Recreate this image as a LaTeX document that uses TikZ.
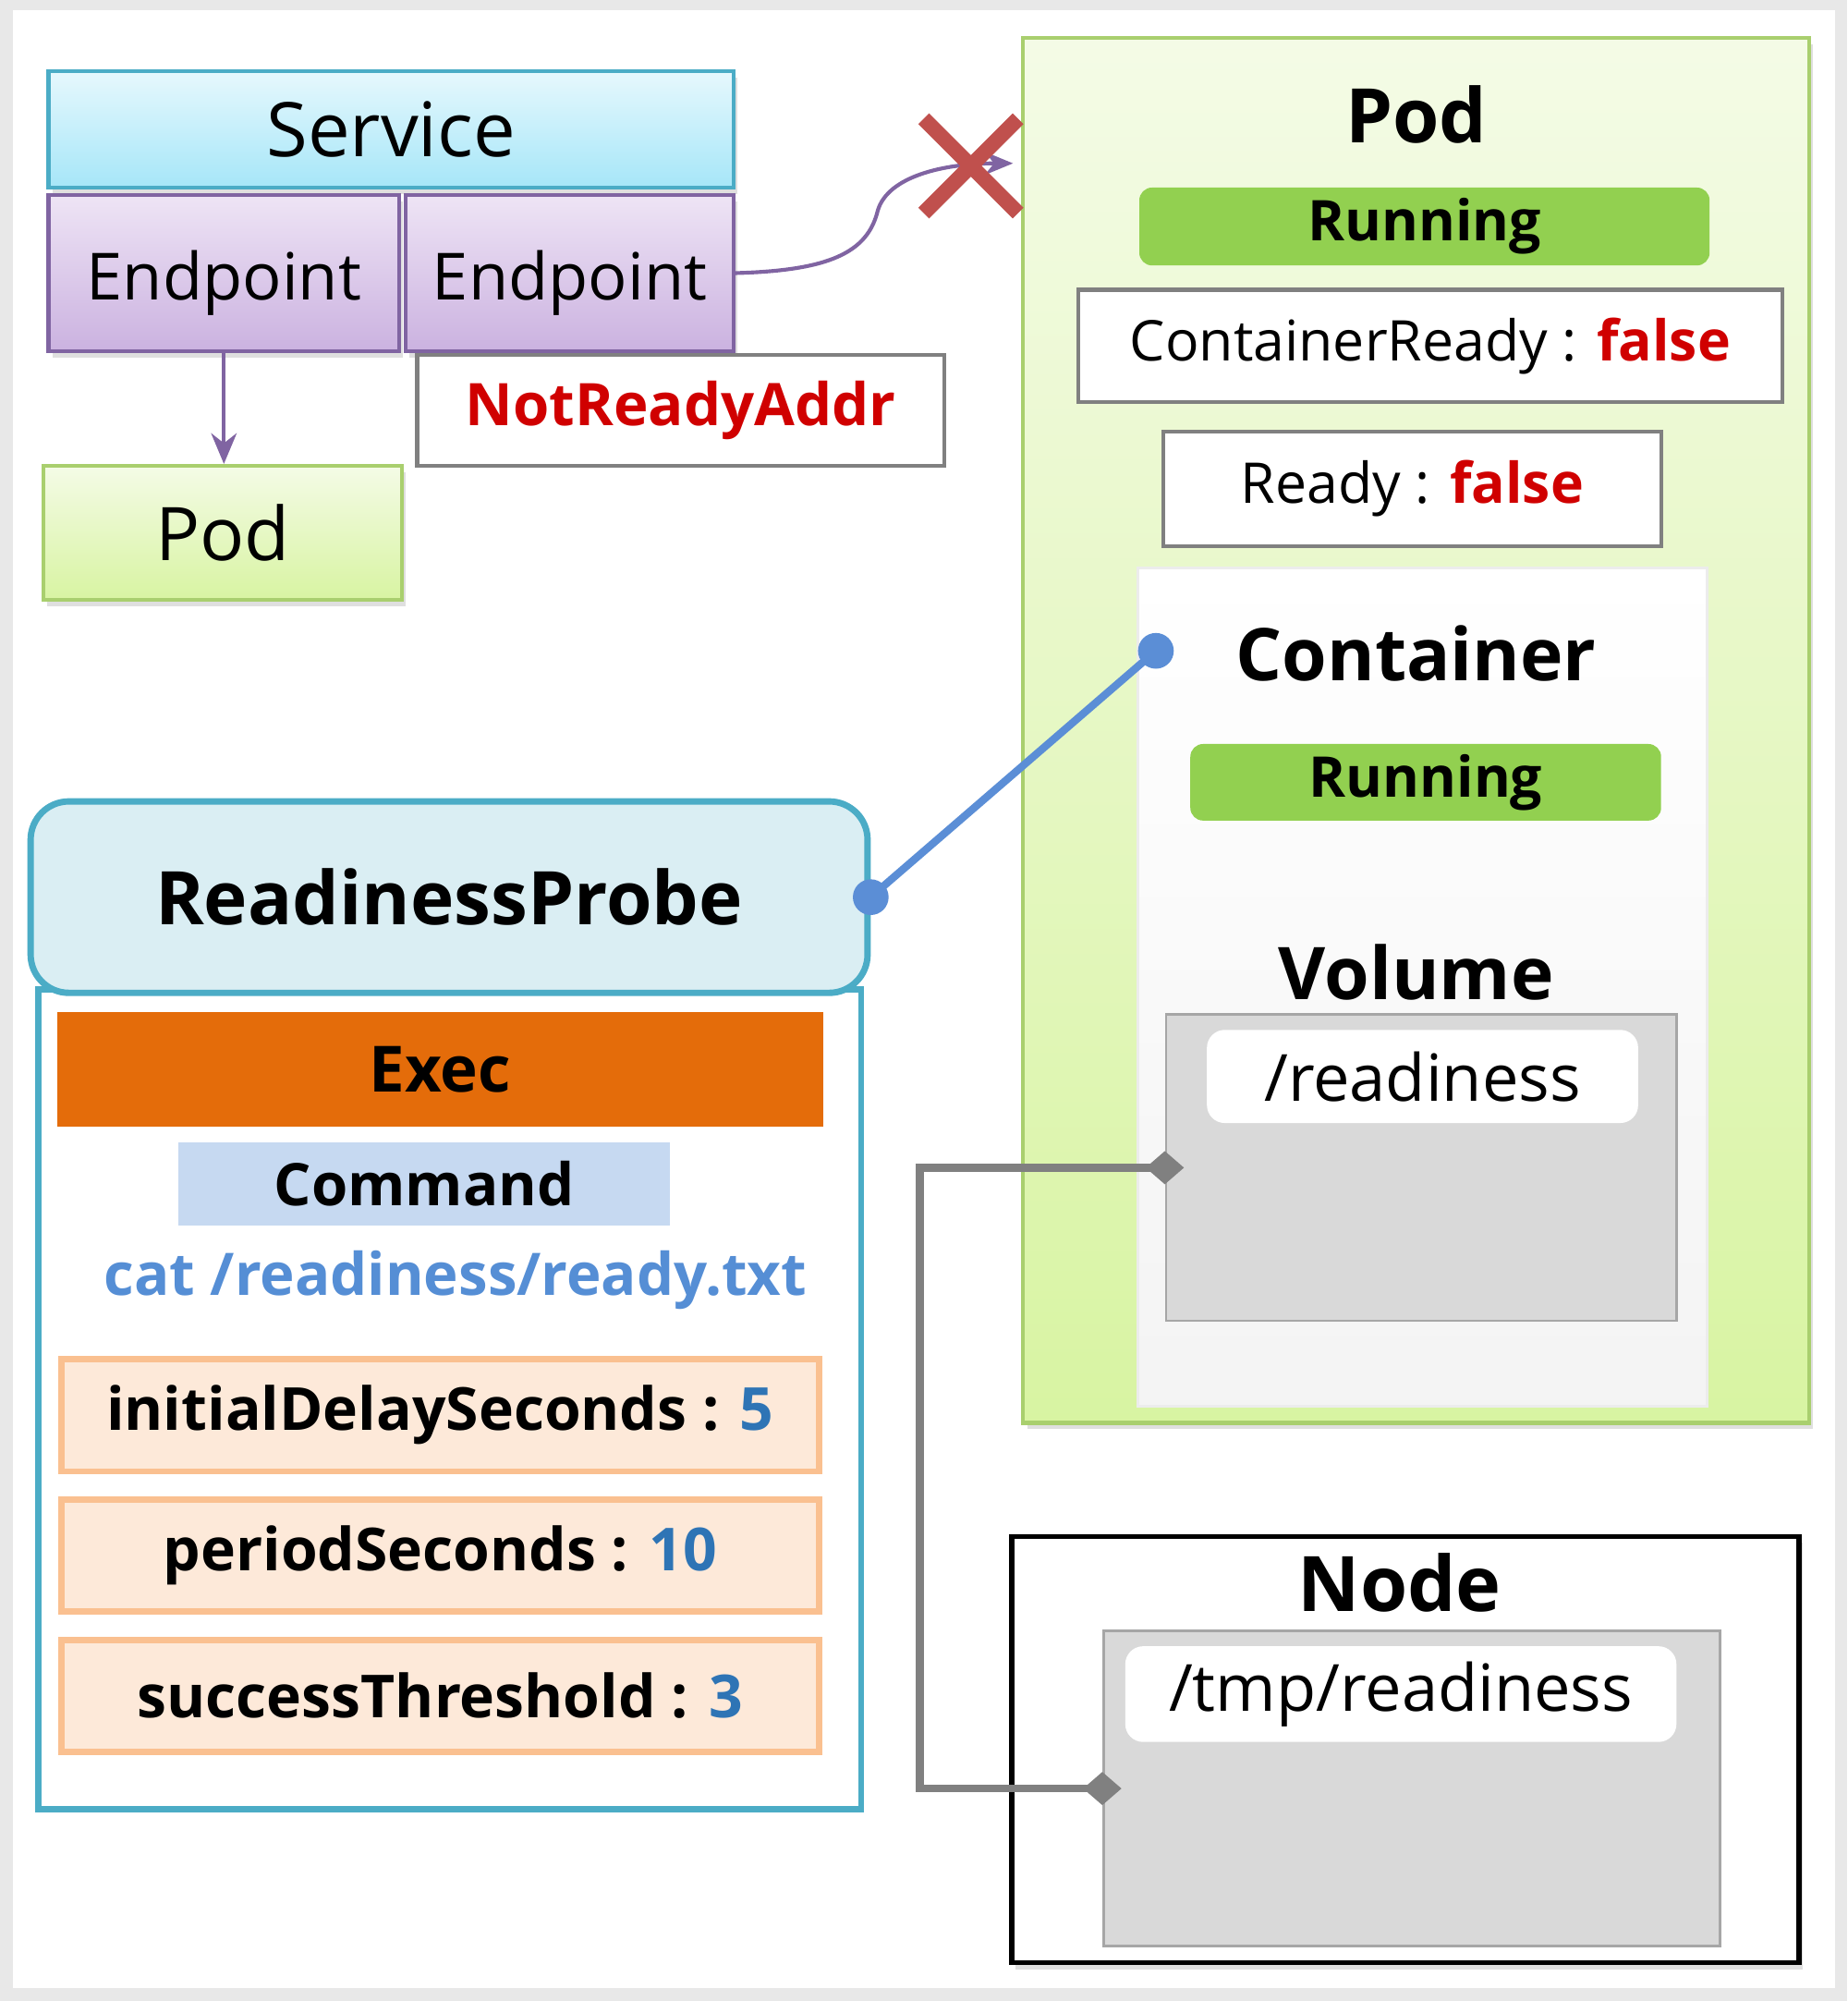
\documentclass[tikz,border=0pt]{standalone}
\usepackage{fontspec}
\setmainfont{Open Sans}
\usetikzlibrary{arrows.meta,shapes.misc,shadows}

\definecolor{svcline}{HTML}{4BACC6}
\definecolor{svctop}{HTML}{E6F8FD}
\definecolor{svcbot}{HTML}{A6E6F8}
\definecolor{epline}{HTML}{8064A2}
\definecolor{eptop}{HTML}{EEE4F5}
\definecolor{epbot}{HTML}{CBB2E0}
\definecolor{podline}{HTML}{A9CF6E}
\definecolor{podtop}{HTML}{F4FBE6}
\definecolor{podbot}{HTML}{D8F4A2}
\definecolor{runfill}{HTML}{92D050}
\definecolor{alertred}{HTML}{D00000}
\definecolor{xred}{HTML}{C0504D}
\definecolor{probefill}{HTML}{DAEEF3}
\definecolor{probeblue}{HTML}{5B8ED6}
\definecolor{execorange}{HTML}{E46C0A}
\definecolor{cmdblue}{HTML}{C6D9F1}
\definecolor{cattext}{HTML}{558ED5}
\definecolor{paramline}{HTML}{FAC090}
\definecolor{paramfill}{HTML}{FDE9D9}
\definecolor{valblue}{HTML}{2E74B5}
\definecolor{dirfill}{HTML}{D9D9D9}
\definecolor{dirline}{HTML}{A6A6A6}
\definecolor{mountgray}{HTML}{808080}

\newcommand{\sizefont}[1]{\fontsize{#1}{#1}\selectfont}
\newcommand{\falsetxt}{\textcolor{alertred}{\bfseries false}}
\newcommand{\valtxt}[1]{\textcolor{valblue}{#1}}

\begin{document}
\begin{tikzpicture}[x=1pt,y=-1pt,
    every node/.style={inner sep=0pt},
    softshadow/.style={drop shadow={opacity=0.25,shadow xshift=3pt,shadow yshift=-5pt}},
    svcbox/.style={draw=svcline,line width=3pt,top color=svctop,bottom color=svcbot,softshadow,font=\sizefont{59}},
    epbox/.style={draw=epline,line width=3pt,top color=eptop,bottom color=epbot,softshadow,font=\sizefont{51},text height=54pt,text depth=12pt},
    podbox/.style={draw=podline,line width=3pt,top color=podtop,bottom color=podbot,softshadow,font=\sizefont{58}},
    flagbox/.style={draw=gray,line width=3pt,fill=white,font=\sizefont{44}},
    runbar/.style={fill=runfill,rounded corners=10pt,font=\sizefont{44}\bfseries},
    heading/.style={font=\sizefont{57}\bfseries},
    ctrbox/.style={draw=gray!15,line width=2pt,top color=white,bottom color=gray!9},
    dirbox/.style={draw=dirline,line width=2pt,fill=dirfill},
    dirlabel/.style={fill=white,rounded corners=14pt,font=\sizefont{51}},
    probehead/.style={draw=svcline,line width=5pt,fill=probefill,rounded corners=30pt,font=\sizefont{58}\bfseries},
    probebody/.style={draw=svcline,line width=5pt,fill=white},
    parambox/.style={draw=paramline,line width=5pt,fill=paramfill,minimum width=594pt,minimum height=88pt,font=\sizefont{46.5}\bfseries},
    eplink/.style={draw=epline,line width=3pt},
    probelink/.style={draw=probeblue,line width=6pt},
    mountlink/.style={draw=mountgray,line width=6pt,{Diamond[length=30pt,width=26pt]}-{Diamond[length=30pt,width=26pt]},shorten <=-15pt,shorten >=-15pt},
    cutmark/.style={cross out,draw=xred,line width=12pt,minimum size=62pt}]

\useasboundingbox (0,0) rectangle (1448,1568);
\fill[gray!18] (0,0) rectangle (1448,1568);
\fill[white] (10,8) rectangle (1438,1558);

% service side
\node[svcbox,minimum width=537pt,minimum height=91pt] (service) at (306.5,101.5) {Service};
\node[epbox,minimum width=275pt,minimum height=122pt] (ep1) at (175.5,214) {Endpoint};
\node[epbox,minimum width=257pt,minimum height=122pt] (ep2) at (446.5,214) {Endpoint};
\node[flagbox,minimum width=413pt,minimum height=87pt,text=alertred,font=\sizefont{46}\bfseries] (notready) at (533.5,321.5) {NotReadyAddr};
\node[podbox,minimum width=281pt,minimum height=105pt] (pod) at (174.5,417.5) {Pod};

% pod
\node[podbox,draw=podline,minimum width=616pt,minimum height=1085pt] (podarea) at (1110,572.5) {};
\node[heading,font=\sizefont{59}\bfseries] (podtitle) at (1110,90) {Pod};
\node[runbar,minimum width=447pt,minimum height=61pt] (podrun) at (1116.5,177.5) {Running};
\node[flagbox,minimum width=552pt,minimum height=88pt] (cready) at (1121,271) {ContainerReady : \falsetxt};
\node[flagbox,minimum width=390pt,minimum height=90pt] (ready) at (1107,383) {Ready : \falsetxt};
\node[ctrbox,minimum width=446pt,minimum height=657pt] (ctr) at (1115,773.5) {};
\node[heading] (ctrtitle) at (1110,512) {Container};
\node[runbar,minimum width=369pt,minimum height=60pt] (ctrrun) at (1117.5,613) {Running};
\node[heading] (voltitle) at (1110,762) {Volume};
\node[dirbox,minimum width=400pt,minimum height=240pt] (vol) at (1114,915) {};
\node[dirlabel,minimum width=338pt,minimum height=73pt] (volpath) at (1115,843.5) {/readiness};

% probe
\node[probebody,minimum width=645pt,minimum height=643pt] (probebody) at (352.5,1096.5) {};
\node[probehead,minimum width=656pt,minimum height=150pt] (probe) at (352,703) {ReadinessProbe};
\node[fill=execorange,minimum width=600pt,minimum height=90pt,font=\sizefont{50}\bfseries] (exec) at (345,838) {Exec};
\node[fill=cmdblue,minimum width=385pt,minimum height=65pt,font=\sizefont{46}\bfseries] (cmd) at (332.5,927.5) {Command};
\node[text=cattext,font=\sizefont{46}\bfseries] (cat) at (357,1003) {cat /readiness/ready.txt};
\node[parambox] (delay) at (345,1109) {initialDelaySeconds : \valtxt{5}};
\node[parambox] (period) at (345,1219) {periodSeconds : \valtxt{10}};
\node[parambox] (success) at (345,1329) {successThreshold : \valtxt{3}};

% node
\node[draw=black,line width=4pt,fill=white,softshadow,minimum width=617pt,minimum height=334pt] (host) at (1101.5,1371) {};
\node[heading,font=\sizefont{60}\bfseries] (hosttitle) at (1097,1240) {Node};
\node[dirbox,minimum width=483pt,minimum height=247pt] (hostdir) at (1106.5,1401.5) {};
\node[dirlabel,minimum width=432pt,minimum height=75pt] (hostpath) at (1098,1327.5) {/tmp/readiness};

% links
\draw[eplink,-{Stealth[length=24pt,width=20pt]}] (ep1.south) -- (ep1.south |- pod.north);
\coordinate (cutend) at (794,128);
\draw[eplink,-{Stealth[length=22pt,width=18pt]}] (ep2.east) .. controls (650,212) and (680,198) .. (688,165) .. controls (696,138) and (740,128) .. (cutend);
\node[cutmark] (cut) at (761,130) {};

\coordinate (ctrdot) at (906,510);
\draw[probelink] (probe.east) -- (ctrdot);
\fill[probeblue] (probe.east) circle (14pt) (ctrdot) circle (14pt);

\draw[mountlink] (vol.west) -- ++(-192,0) |- (hostdir.west);
\end{tikzpicture}
\end{document}
